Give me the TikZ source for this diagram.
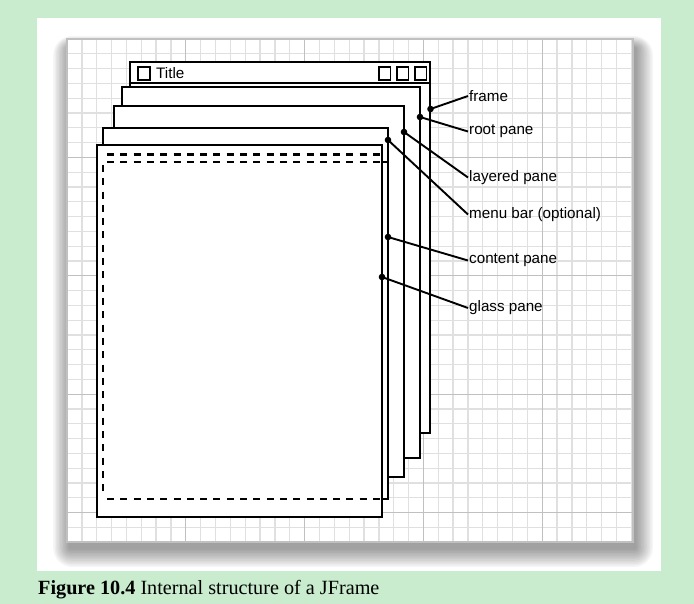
\documentclass[tikz,border=0pt]{standalone}
\usepackage{fontspec}
\setmainfont{Liberation Serif}
\setsansfont{Liberation Sans}
\definecolor{bggreen}{RGB}{200,236,205}
\definecolor{gridminor}{RGB}{224,224,224}
\definecolor{gridmajor}{RGB}{192,192,192}
\begin{document}
\begin{tikzpicture}[x=1pt,y=-1pt,
  pane/.style={draw=black,fill=white,line width=2.1pt},
  dashln/.style={draw=black,line width=2.1pt,dash pattern=on 7pt off 6.3pt},
  conn/.style={draw=black,line width=1.9pt},
  dotmark/.style={fill=black},
  lbl/.style={font=\sffamily\fontsize{15.2}{18}\selectfont,anchor=west,inner sep=1pt},
  btn/.style={draw=black,line width=1.9pt,fill=white}]
\useasboundingbox (0,0) rectangle (694,604);
\fill[bggreen] (0,0) rectangle (694,604);
\fill[white] (37,18) rectangle (661,571);
% shadow of the grid sheet
\foreach \i in {1,...,12}{
  \fill[black,opacity=0.035,rounded corners=1.6*\i pt]
    ({67-1.4*\i+3},{39-1.0*\i+9}) rectangle ({633+1.5*\i+2},{542+1.6*\i+6});
}
% grid sheet
\fill[white] (67,39) rectangle (633,542);
\begin{scope}
\clip (67,39) rectangle (633,542);
\foreach \k in {1,...,38}{
  \draw[gridminor,line width=1.3pt] ({67+14.85*\k},39) -- ({67+14.85*\k},542);
}
\foreach \k in {1,...,34}{
  \draw[gridminor,line width=1.3pt] (67,{39+14.8*\k}) -- (633,{39+14.8*\k});
}
\foreach \k in {1,...,4}{
  \draw[gridmajor,line width=1.3pt] ({67+118.8*\k},39) -- ({67+118.8*\k},542);
  \draw[gridmajor,line width=1.3pt] (67,{39+118.4*\k}) -- (633,{39+118.4*\k});
}
\end{scope}
\draw[gridmajor,line width=1.3pt] (67,39) rectangle (633,542);
% frame with title bar
\draw[pane] (130,62) rectangle (430,433);
\draw[black,line width=2.1pt] (130,83) -- (430,83);
\draw[btn] (138,67) rectangle (150,80);
\node[lbl] (ttl) at (155,73.5) {Title};
\draw[btn] (379,67) rectangle (390.5,80);
\draw[btn] (397,67) rectangle (408.5,80);
\draw[btn] (415,67) rectangle (426.5,80);
% root pane
\draw[pane] (122,87) rectangle (420,458);
% layered pane
\draw[pane] (114,106) rectangle (404,477);
% content pane with menu bar
\draw[pane] (103,128) rectangle (388,499);
\draw[black,line width=2.1pt] (103,162) -- (388,162);
% glass pane
\draw[pane] (97,145) rectangle (382,517);
\draw[dashln] (107,154.5) -- (380,154.5);
\draw[dashln] (107,162) -- (381,162);
\draw[dashln] (103.3,165) -- (103.3,497);
\draw[dashln] (107,499.3) -- (380,499.3);
% dots
\coordinate (dfr) at (430.5,109);
\coordinate (drp) at (420,117);
\coordinate (dlp) at (404,132);
\coordinate (dmb) at (388,140);
\coordinate (dcp) at (388,237);
\coordinate (dgp) at (382,277);
\foreach \c in {dfr,drp,dlp,dmb,dcp,dgp}{\fill[dotmark] (\c) circle (3.3pt);}
% labels
\node[lbl] (lfr) at (468,96) {frame};
\node[lbl] (lrp) at (468,131.5) {root pane};
\node[lbl] (llp) at (468,177.5) {layered pane};
\node[lbl] (lmb) at (468,214.5) {menu bar (optional)};
\node[lbl] (lcp) at (468,260.5) {content pane};
\node[lbl] (lgp) at (468,308) {glass pane};
\draw[conn] (dfr) -- (lfr.west);
\draw[conn] (drp) -- (lrp.west);
\draw[conn] (dlp) -- (llp.west);
\draw[conn] (dmb) -- (lmb.west);
\draw[conn] (dcp) -- (lcp.west);
\draw[conn] (dgp) -- (lgp.west);
% caption
\node[anchor=west,inner sep=0pt,font=\fontsize{20.2}{23}\selectfont] (cap) at (38,590)
  {\textbf{Figure 10.4} Internal structure of a JFrame};
\end{tikzpicture}
\end{document}
